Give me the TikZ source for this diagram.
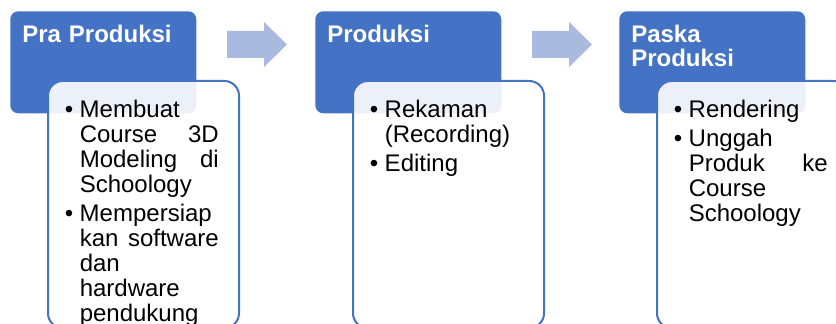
\documentclass[tikz,border=0pt]{standalone}
\usepackage{fontspec}
\setmainfont{Liberation Sans}
\usepackage{xcolor}
\usetikzlibrary{positioning,calc}

\definecolor{hdrblue}{HTML}{4472C4}
\definecolor{arrblue}{HTML}{AAB9DE}
\newcommand{\bul}{\leftskip=11.25pt\noindent\llap{\makebox[11.25pt][l]{\textbullet}}}
\newcommand{\bulgap}{\par\vskip3pt}

\begin{document}
\begin{tikzpicture}[x=0.75pt, y=-0.75pt,
  hdr/.style={fill=hdrblue, rounded corners=6pt, minimum width=139.5pt, minimum height=76.5pt, anchor=north west, inner sep=0pt},
  hdrtxt/.style={text=white, font=\bfseries\fontsize{18pt}{18pt}\selectfont, text width=130pt, anchor=base west, inner sep=0pt},
  card/.style={draw=hdrblue, line width=1.5pt, fill=white, fill opacity=0.9, rounded corners=11pt, minimum width=143.25pt, minimum height=185.25pt, anchor=north west, inner sep=0pt},
  items/.style={text width=115.5pt, font=\fontsize{18pt}{18.75pt}\selectfont, anchor=base west, inner sep=0pt},
  blockarr/.style={fill=arrblue}]
\useasboundingbox (0,0) rectangle (836,324);
\clip (0,0) rectangle (836,324);
% headers
\foreach \i/\x/\lab in {1/10/{Pra Produksi}, 2/315/{Produksi}, 3/619/{Paska\newline Produksi}}{
  \node[hdr] (h\i) at (\x,11) {};
  \node[hdrtxt] (l\i) at ($(h\i.north west)+(12,32)$) {\lab};
}
% block arrows between stages
\foreach \x in {227,532}
  \fill[blockarr] (\x,31) -- ++(37,0) -- ++(0,-9) -- ++(23,22.5) -- ++(-23,22.5) -- ++(0,-9) -- ++(-37,0) -- cycle;
% cards
\foreach \i/\x in {1/47, 2/352, 3/656}
  \node[card] (c\i) at (\x,80) {};
\node[items] (t1) at ($(c1.north west)+(17.5,38)$) {%
  \bul Membuat\newline Course\hfill 3D\newline Modeling\hfill di\newline Schoology\bulgap
  \bul Mempersiap\newline kan\hfill software\newline dan\newline hardware\newline pendukung\par};
\node[items] (t2) at ($(c2.north west)+(17.5,38)$) {%
  \bul Rekaman\newline (Recording)\bulgap
  \bul Editing\par};
\node[items] (t3) at ($(c3.north west)+(17.5,38)$) {%
  \bul Rendering\bulgap
  \bul Unggah\newline Produk\hfill ke\newline Course\newline Schoology\par};
\end{tikzpicture}
\end{document}
